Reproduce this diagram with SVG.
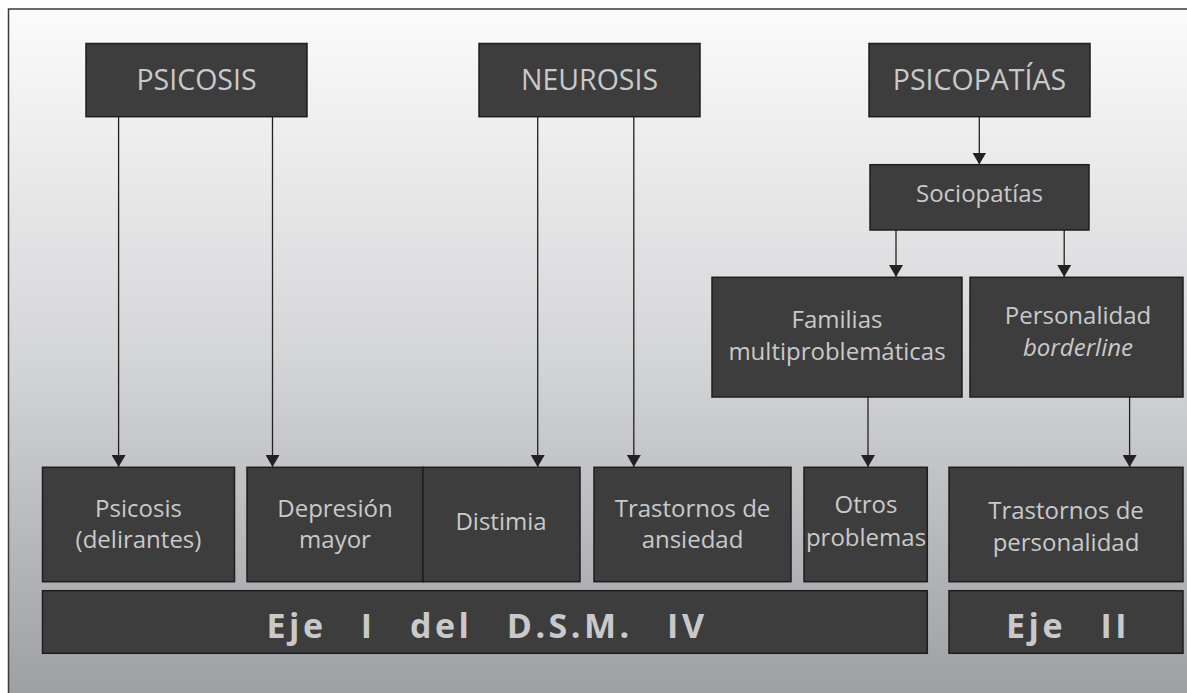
<svg xmlns="http://www.w3.org/2000/svg" width="1187" height="693" viewBox="0 0 1187 693">
<defs>
<linearGradient id="bg" x1="0" y1="0" x2="0" y2="1">
<stop offset="0" stop-color="#fbfbfb"/>
<stop offset="0.5" stop-color="#d4d5d7"/>
<stop offset="1" stop-color="#9c9da1"/>
</linearGradient>
<marker id="arr" viewBox="0 0 12 14" refX="12" refY="7" markerWidth="12" markerHeight="14" markerUnits="userSpaceOnUse" orient="auto">
<path d="M0,0 L12,7 L0,14 Z" fill="#222"/>
</marker>
<style>
.box{fill:#3d3d3d;stroke:#1e1e1e;stroke-width:1.5}
.t{fill:#c9c9cb;font-family:"Open Sans","Liberation Sans",sans-serif;font-size:24px;text-anchor:middle}
.h{font-size:28.5px}
.b{font-weight:bold;font-size:34px;letter-spacing:3.5px;word-spacing:22px}
.con line{stroke:#222;stroke-width:1.3;marker-end:url(#arr)}
</style>
</defs>
<rect x="0" y="0" width="1187" height="693" fill="#ffffff"/>
<rect x="8.5" y="9" width="1190" height="700" fill="url(#bg)" stroke="#3a3a3a" stroke-width="1.5"/>

<g id="connectors" class="con">
<line x1="118.6" y1="117" x2="118.6" y2="467"/>
<line x1="272.5" y1="117" x2="272.5" y2="467"/>
<line x1="537.7" y1="117" x2="537.7" y2="467"/>
<line x1="633.8" y1="117" x2="633.8" y2="467"/>
<line x1="979.3" y1="117" x2="979.3" y2="164.5"/>
<line x1="896" y1="230" x2="896" y2="277"/>
<line x1="1064.2" y1="230" x2="1064.2" y2="277"/>
<line x1="868" y1="397" x2="868" y2="467"/>
<line x1="1129.6" y1="397" x2="1129.6" y2="467"/>
</g>

<g id="psicosis"><rect class="box" x="86" y="43.5" width="221" height="73.2"/><text class="t h" x="196.5" y="90">PSICOSIS</text></g>
<g id="neurosis"><rect class="box" x="479" y="43.5" width="221" height="73.2"/><text class="t h" x="589.5" y="90">NEUROSIS</text></g>
<g id="psicopatias"><rect class="box" x="869" y="43.5" width="221" height="73.2"/><text class="t h" x="979.5" y="90">PSICOPATÍAS</text></g>
<g id="sociopatias"><rect class="box" x="870" y="164.7" width="219" height="65.3"/><text class="t" x="979.5" y="202">Sociopatías</text></g>
<g id="familias"><rect class="box" x="712" y="277.3" width="250" height="119.7"/><text class="t" x="837" y="328">Familias</text><text class="t" x="837" y="360">multiproblemáticas</text></g>
<g id="personalidad"><rect class="box" x="970" y="277.3" width="213" height="119.7"/><text class="t" x="1078" y="324">Personalidad</text><text class="t" x="1078" y="356" font-style="italic">borderline</text></g>
<g id="psicosis-delirantes"><rect class="box" x="42.5" y="467.3" width="192" height="114.4"/><text class="t" x="138.5" y="517">Psicosis</text><text class="t" x="138.5" y="548">(delirantes)</text></g>
<g id="depresion"><rect class="box" x="247" y="467.3" width="176" height="114.4"/><text class="t" x="335" y="517">Depresión</text><text class="t" x="335" y="548">mayor</text></g>
<g id="distimia"><rect class="box" x="423" y="467.3" width="157" height="114.4"/><text class="t" x="501" y="530">Distimia</text></g>
<g id="ansiedad"><rect class="box" x="594" y="467.3" width="197" height="114.4"/><text class="t" x="692.5" y="517">Trastornos de</text><text class="t" x="692.5" y="548">ansiedad</text></g>
<g id="otros"><rect class="box" x="804" y="467.3" width="123.3" height="114.4"/><text class="t" x="866" y="513">Otros</text><text class="t" x="866" y="546">problemas</text></g>
<g id="trastornos-personalidad"><rect class="box" x="949" y="467.3" width="234" height="114.4"/><text class="t" x="1066" y="519">Trastornos de</text><text class="t" x="1066" y="551">personalidad</text></g>
<g id="eje1"><rect class="box" x="42.5" y="590.7" width="884.8" height="62.6"/><text class="t b" x="487" y="638">Eje I del D.S.M. IV</text></g>
<g id="eje2"><rect class="box" x="949" y="590.7" width="234" height="62.6"/><text class="t b" x="1068" y="638">Eje II</text></g>
</svg>
